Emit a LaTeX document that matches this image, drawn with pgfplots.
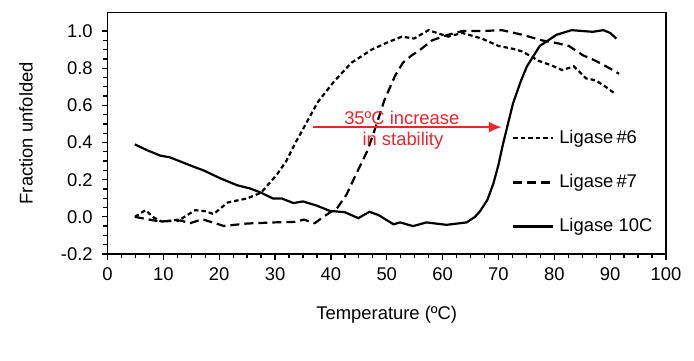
\documentclass[border=0pt]{standalone}
\usepackage{fontspec}
\setmainfont{Liberation Sans}
\usepackage{pgfplots}
\pgfplotsset{compat=1.18}
\usetikzlibrary{arrows.meta}
\definecolor{arrowred}{RGB}{232,38,44}
\begin{document}
\fontsize{18.4}{22}\selectfont
\begin{tikzpicture}
\useasboundingbox (-107.5pt,-107pt) rectangle (586.5pt,254pt);
\begin{axis}[
  at={(0pt,0pt)}, anchor=south west,
  scale only axis, width=558.5pt, height=241.5pt,
  xmin=0, xmax=100, ymin=-0.2, ymax=1.1,
  xtick={0,10,...,100}, minor x tick num=3,
  ytick={-0.2,0,0.2,0.4,0.6,0.8,1.0}, minor y tick num=3,
  tick pos=left, tick align=outside,
  major tick length=5.5pt, minor tick length=4.5pt,
  every tick/.style={black, line width=1.3pt},
  axis line style={line width=1.6pt},
  /pgf/number format/assume math mode=true,
  yticklabel style={/pgf/number format/fixed, /pgf/number format/fixed zerofill, /pgf/number format/precision=1, xshift=-3pt},
  xticklabel style={yshift=-2pt},
  ticklabel style={font=\fontsize{18.4}{22}\selectfont},
  xlabel={Temperature (ºC)}, ylabel={Fraction unfolded},
  label style={font=\fontsize{18.4}{22}\selectfont},
  xlabel style={at={(axis description cs:0.5,-0.253)}, anchor=center},
  ylabel style={at={(axis description cs:-0.146,0.5)}, anchor=center},
  legend style={at={(axis cs:72.4,0.185)}, anchor=west, draw=none, fill=none,
    inner sep=0pt, row sep=26pt, column sep=4pt, nodes={inner sep=1pt},
    font=\fontsize{18.4}{22}\selectfont},
  legend cell align=left,
  legend image code/.code={\draw[#1, line width=2.2pt] (0pt,0pt) -- (40pt,0pt);},
]
\addplot[black, line width=2.2pt, dash pattern=on 4.5pt off 3pt] coordinates {
(4.9,0.0) (6.8,0.036) (8.3,-0.004) (9.7,-0.025) (11.5,-0.02) (13.1,-0.013)
(15.7,0.036) (17.5,0.03) (19.0,0.015) (21.5,0.077) (23.5,0.09) (25.0,0.099)
(27.5,0.13) (30.4,0.23) (32.0,0.30) (33.5,0.39) (35.5,0.50) (37.7,0.62)
(40.6,0.73) (43.7,0.83) (47.3,0.90) (50.2,0.94) (52.7,0.97) (54.9,0.96)
(57.5,1.005) (59.5,0.985) (61.0,0.97) (63.5,0.99) (67.0,0.96) (70.0,0.92)
(72.5,0.905) (74.3,0.89) (77.2,0.84) (79.5,0.815) (81.4,0.79) (83.5,0.81)
(85.7,0.745) (87.4,0.735) (89.2,0.70) (91.0,0.66)
};
\addlegendentry{Ligase\,\#6}
\addplot[black, line width=2.2pt, dash pattern=on 9pt off 5pt] coordinates {
(4.9,0.0) (7.5,-0.015) (9.4,-0.025) (13.1,-0.02) (14.8,-0.034) (17.0,-0.013)
(20.8,-0.049) (25.0,-0.036) (29.8,-0.03) (33.5,-0.027) (35.2,-0.015)
(37.1,-0.034) (38.9,0.005) (41.2,0.05) (42.8,0.12) (44.2,0.21) (46.6,0.36)
(48.2,0.50) (49.6,0.63) (51.5,0.76) (52.9,0.83) (54.5,0.87) (55.6,0.89)
(58.1,0.95) (61.0,0.98) (63.5,1.0) (67.0,1.0) (70.6,1.005) (74.3,0.98)
(77.8,0.95) (80.5,0.935) (82.6,0.92) (85.1,0.87) (87.4,0.84) (89.9,0.80)
(91.6,0.77)
};
\addlegendentry{Ligase\,\#7}
\addplot[black, line width=2.2pt] coordinates {
(4.9,0.39) (7.0,0.36) (9.4,0.33) (11.2,0.32) (13.3,0.295) (15.4,0.27)
(17.2,0.25) (20.0,0.21) (23.2,0.17) (25.5,0.153) (27.5,0.13) (29.6,0.099)
(31.2,0.099) (33.3,0.074) (35.0,0.083) (37.5,0.06) (39.8,0.032)
(42.5,0.025) (44.9,-0.007) (46.9,0.027) (48.5,0.01) (51.2,-0.04)
(52.4,-0.03) (54.7,-0.05) (57.1,-0.03) (60.7,-0.043) (64.3,-0.03)
(65.8,0.0) (66.7,0.03) (68.0,0.09) (69.1,0.18) (70.0,0.28) (70.8,0.39)
(72.6,0.61) (74.0,0.73) (75.1,0.81) (77.4,0.92) (80.4,0.98) (83.1,1.005)
(86.9,0.996) (88.8,1.005) (90.0,0.99) (91.1,0.96)
};
\addlegendentry{Ligase 10C}
\draw[arrowred, line width=2pt, -{Latex[length=13pt,width=11pt]}]
  (axis cs:36.8,0.483) -- (axis cs:70.6,0.483);
\node[text=arrowred, anchor=center] at (axis cs:52.7,0.535) {35ºC increase};
\node[text=arrowred, anchor=center] at (axis cs:52.9,0.41) {in stability};
\end{axis}
\end{tikzpicture}
\end{document}
